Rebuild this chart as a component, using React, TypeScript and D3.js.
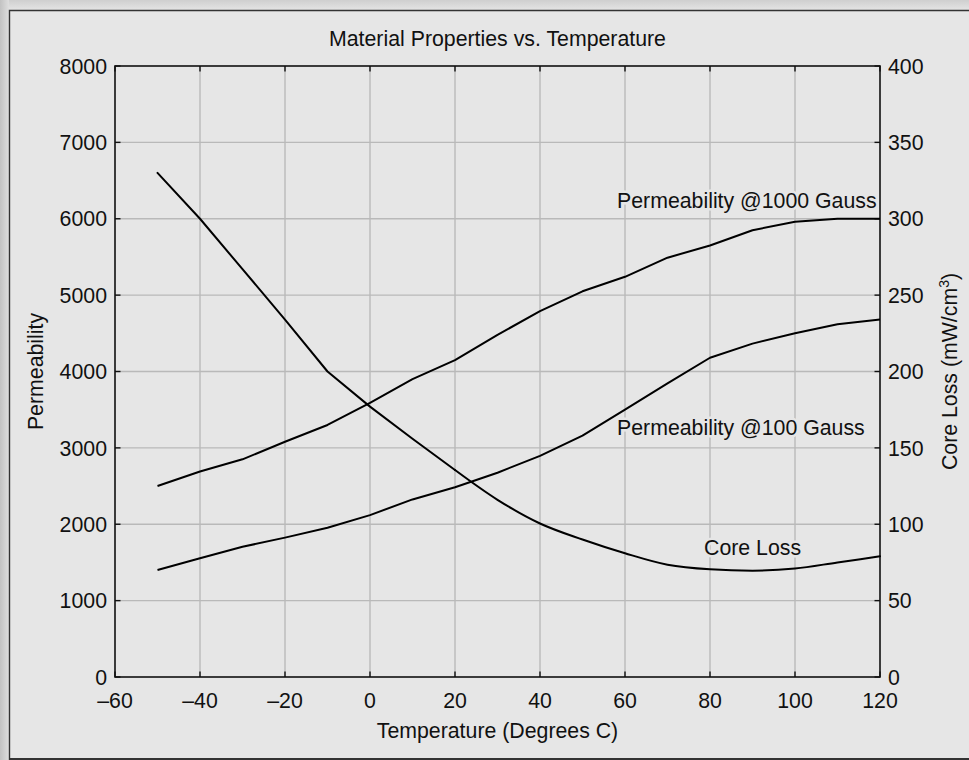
import React from "react";
import * as d3 from "d3";

const temps = [-50, -40, -30, -20, -10, 0, 10, 20, 30, 40, 50, 60, 70, 80, 90, 100, 110, 120];
const perm1000 = [2500, 2690, 2850, 3080, 3300, 3590, 3900, 4150, 4480, 4790, 5050, 5240, 5490, 5650, 5850, 5960, 6000, 6000];
const perm100 = [1400, 1555, 1705, 1825, 1955, 2120, 2325, 2485, 2675, 2895, 3160, 3500, 3845, 4180, 4365, 4500, 4620, 4680];
const coreLoss = [330, 300, 267, 234, 200, 177, 156, 135.5, 116, 100.5, 90, 81, 73.5, 70.5, 69.6, 71, 75, 79];

const xTicks = [-60, -40, -20, 0, 20, 40, 60, 80, 100, 120];
const yLeftTicks = [0, 1000, 2000, 3000, 4000, 5000, 6000, 7000, 8000];
const yRightTicks = [0, 50, 100, 150, 200, 250, 300, 350, 400];

const title = "Material Properties vs. Temperature";
const xTitle = "Temperature (Degrees C)";
const yLeftTitle = "Permeability";
const yRightTitle = "Core Loss (mW/cm";
const labelPerm1000 = "Permeability @1000 Gauss";
const labelPerm100 = "Permeability @100 Gauss";
const labelCore = "Core Loss";

const W = 969;
const H = 760;
const L = 115, R = 880, T = 66, B = 677;
const FONT = "'Liberation Sans', Arial, Helvetica, sans-serif";
const BG = "#e6e6e6";

export default function App() {
  const x = d3.scaleLinear().domain([-60, 120]).range([L, R]);
  const yL = d3.scaleLinear().domain([0, 8000]).range([B, T]);
  const yR = d3.scaleLinear().domain([0, 400]).range([B, T]);

  const linePerm = d3.line<number>().x((_, i) => x(temps[i])).y((d) => yL(d)).curve(d3.curveLinear);
  const corePts: [number, number][] = coreLoss.map((c, i) => [x(temps[i]), yR(c)]);
  const split = temps.indexOf(20);
  const coreA = d3.line().curve(d3.curveLinear)(corePts.slice(0, split + 1)) || "";
  const coreB = d3.line().curve(d3.curveMonotoneX)(corePts.slice(split)) || "";

  const tick = 5.5;
  const textStyle: React.CSSProperties = { fontFamily: FONT, fontSize: 21.3, fill: "#111" };
  const haloProps = { stroke: BG, strokeWidth: 5, paintOrder: "stroke" as any, strokeLinejoin: "round" as any };

  return (
    <svg width={W} height={H} style={{ position: "absolute", left: 0, top: 0, display: "block" }}>
      <defs>
        <linearGradient id="gTop" x1="0" y1="0" x2="0" y2="1">
          <stop offset="0" stopColor="#cfcfcf" />
          <stop offset="1" stopColor="#e4e4e4" />
        </linearGradient>
        <linearGradient id="gLeft" x1="0" y1="0" x2="1" y2="0">
          <stop offset="0" stopColor="#c2c2c2" />
          <stop offset="1" stopColor="#dedede" />
        </linearGradient>
      </defs>
      <rect x={0} y={0} width={W} height={H} fill={BG} />
      <rect x={0} y={0} width={W} height={10} fill="url(#gTop)" />
      <rect x={0} y={0} width={9} height={H} fill="url(#gLeft)" />
      <path d={`M9.5,${H + 2} V10.5 H${W + 2}`} fill="none" stroke="#333" strokeWidth={1.4} />
      <line x1={9} x2={W + 2} y1={759} y2={759} stroke="#333" strokeWidth={2} />

      {/* grid */}
      {xTicks.slice(1, -1).map((t) => (
        <line key={"gx" + t} x1={x(t)} x2={x(t)} y1={T} y2={B} stroke="#b9b9b9" strokeWidth={1.4} />
      ))}
      {yLeftTicks.slice(1, -1).map((t) => (
        <line key={"gy" + t} x1={L} x2={R} y1={yL(t)} y2={yL(t)} stroke="#b9b9b9" strokeWidth={1.4} />
      ))}

      {/* ticks */}
      {xTicks.map((t) => (
        <g key={"tx" + t}>
          <line x1={x(t)} x2={x(t)} y1={B} y2={B - tick} stroke="#111" strokeWidth={1.4} />
          <line x1={x(t)} x2={x(t)} y1={T} y2={T + tick} stroke="#111" strokeWidth={1.4} />
        </g>
      ))}
      {yLeftTicks.map((t) => (
        <line key={"tl" + t} x1={L} x2={L + tick} y1={yL(t)} y2={yL(t)} stroke="#111" strokeWidth={1.4} />
      ))}
      {yRightTicks.map((t) => (
        <line key={"tr" + t} x1={R} x2={R - tick} y1={yR(t)} y2={yR(t)} stroke="#111" strokeWidth={1.4} />
      ))}

      {/* frame */}
      <rect x={L} y={T} width={R - L} height={B - T} fill="none" stroke="#111" strokeWidth={1.6} />

      {/* curves */}
      <path d={linePerm(perm1000) || ""} fill="none" stroke="#000" strokeWidth={2} strokeLinejoin="round" />
      <path d={linePerm(perm100) || ""} fill="none" stroke="#000" strokeWidth={2} strokeLinejoin="round" />
      <path d={coreA} fill="none" stroke="#000" strokeWidth={2} strokeLinejoin="round" strokeLinecap="round" />
      <path d={coreB} fill="none" stroke="#000" strokeWidth={2} strokeLinejoin="round" strokeLinecap="round" />

      {/* curve labels */}
      <text x={617} y={208} style={textStyle} {...haloProps}>{labelPerm1000}</text>
      <text x={617} y={435} style={textStyle} {...haloProps}>{labelPerm100}</text>
      <text x={704} y={555} style={textStyle} {...haloProps}>{labelCore}</text>

      {/* tick labels */}
      {xTicks.map((t) => (
        <text key={"lx" + t} x={x(t)} y={708} textAnchor="middle" style={textStyle}>
          {t < 0 ? "\u2013" + Math.abs(t) : String(t)}
        </text>
      ))}
      {yLeftTicks.map((t) => (
        <text key={"ll" + t} x={107} y={yL(t)} dy="0.36em" textAnchor="end" style={textStyle}>
          {t}
        </text>
      ))}
      {yRightTicks.map((t) => (
        <text key={"lr" + t} x={888} y={yR(t)} dy="0.36em" textAnchor="start" style={textStyle}>
          {t}
        </text>
      ))}

      {/* titles */}
      <text x={(L + R) / 2} y={45.5} textAnchor="middle" style={textStyle}>{title}</text>
      <text x={(L + R) / 2} y={738} textAnchor="middle" style={textStyle}>{xTitle}</text>
      <text transform={`translate(43,${(T + B) / 2}) rotate(-90)`} textAnchor="middle" style={textStyle}>
        {yLeftTitle}
      </text>
      <text transform={`translate(957,${(T + B) / 2}) rotate(-90)`} textAnchor="middle" style={textStyle}>
        {yRightTitle}
        <tspan fontSize={14} dy={-8}>3</tspan>
        <tspan dy={8}>)</tspan>
      </text>
    </svg>
  );
}
